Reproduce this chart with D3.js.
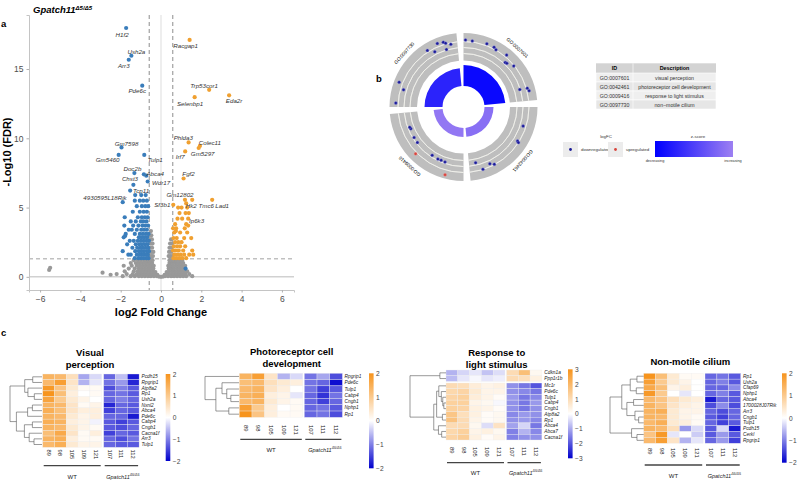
<!DOCTYPE html>
<html>
<head>
<meta charset="utf-8">
<script src="https://cdn.jsdelivr.net/npm/d3@7"></script>
<style>
  body { margin: 0; background: #fff; }
  svg text { font-family: "Liberation Sans", Arial, sans-serif; }
</style>
</head>
<body>
<svg id="fig" width="797" height="480"></svg>
<script>
// ---------- panel a : volcano ----------
var hitGenes = ["H1f2","Ush2a","Arr3","Pde6c","Racgap1","Trp53cor1","Eda2r","Selenbp1","Phlda3","Colec11",
  "Gm5297","Irf7","Fgf2","Gm7598","Gm5460","Tulp1","Doc2b","Abca4","Chst3","Wdr17","Tcp11",
  "4930595L18Rik","Gm12802","Sf3b1","Hk2","Tmc6","Lad1","Ip6k3"];
var hitLfc = [-1.73,-1.47,-1.60,-0.93,1.42,2.39,3.38,1.67,1.37,1.93,1.87,1.20,1.12,-1.96,-2.10,-0.83,
  -1.32,-0.85,-1.37,-0.66,-1.53,-1.90,1.19,0.61,1.25,1.55,2.54,1.22];
var hitFdr = [17.96,15.96,15.67,13.80,17.10,13.50,13.10,12.97,9.70,9.45,9.30,9.05,7.10,9.34,8.80,8.80,
  7.49,7.40,6.64,6.88,6.23,5.39,5.56,5.20,5.30,5.56,5.56,4.60];

// other significant / non-significant genes [log2FC, -log10 FDR]
var downPts = [[-0.62,1.35],[-0.72,1.35],[-0.85,1.35],[-0.98,1.35],[-1.12,1.35],[-1.3,1.35],
  [-0.65,1.6],[-0.78,1.6],[-0.92,1.6],[-1.05,1.6],[-1.2,1.6],[-1.5,1.6],[-1.62,1.6],
  [-0.6,1.85],[-0.7,1.85],[-0.84,1.85],[-0.97,1.85],[-1.1,1.85],[-1.28,1.85],[-1.9,1.85],
  [-0.63,2.1],[-0.76,2.1],[-0.9,2.1],[-1.02,2.1],[-1.18,2.1],[-1.42,2.1],
  [-0.66,2.35],[-0.8,2.35],[-0.94,2.35],[-1.08,2.35],[-1.25,2.35],[-1.68,2.35],
  [-0.6,2.6],[-0.72,2.6],[-0.86,2.6],[-1.0,2.6],[-1.15,2.6],[-1.35,2.6],[-1.55,2.6],
  [-0.68,2.85],[-0.82,2.85],[-0.96,2.85],[-1.1,2.85],[-1.85,2.85],[-1.78,2.95],
  [-0.62,3.1],[-0.75,3.1],[-0.9,3.1],[-1.05,3.1],[-1.3,3.1],[-1.75,3.1],
  [-0.7,3.4],[-0.84,3.4],[-0.98,3.4],[-1.2,3.4],[-1.45,3.4],[-1.6,3.4],
  [-0.64,3.7],[-0.78,3.7],[-0.92,3.7],[-1.12,3.7],[-1.38,3.7],[-1.82,3.7],
  [-0.72,4.0],[-0.88,4.0],[-1.0,4.0],[-1.25,4.0],[-1.5,4.0],
  [-0.66,4.3],[-0.8,4.3],[-0.95,4.3],[-1.15,4.3],[-1.8,4.3],
  [-0.7,4.7],[-0.86,4.7],[-1.05,4.7],[-1.4,4.7],
  [-0.64,5.1],[-0.78,5.1],[-0.95,5.1],[-1.2,5.1],
  [-0.7,5.5],[-0.88,5.5],[-1.05,5.5],[-1.3,5.5],
  [-0.76,5.9],[-0.98,5.9],[-1.28,5.9],[-0.73,7.3],[1.22,0.6]];
var upPts = [[0.62,1.35],[0.75,1.35],[0.9,1.35],[1.05,1.35],[1.25,1.35],
  [0.66,1.6],[0.82,1.6],[0.98,1.6],[1.15,1.6],[1.4,1.6],[1.6,1.6],
  [0.6,1.9],[0.72,1.9],[0.88,1.9],[1.1,1.9],[1.55,1.9],
  [0.64,2.2],[0.8,2.2],[0.95,2.2],[1.2,2.2],
  [0.7,2.5],[0.86,2.5],[1.02,2.5],
  [0.62,2.8],[0.78,2.8],[1.15,2.8],[1.5,2.8],
  [0.66,3.2],[0.74,3.3],[0.95,3.2],[1.3,3.2],
  [0.6,3.5],[0.75,3.5],[1.18,3.5],
  [0.7,3.8],[1.25,3.8],[1.35,3.7],
  [0.82,4.2],[1.05,4.2],[1.35,4.2],
  [0.92,4.6],[1.38,4.6],[0.85,5.0],[1.02,5.0],[1.3,5.0]];
var nsPts = [[-5.55,0.5],[-5.5,0.65],[-2.9,0.3],[-2.5,0.15],[-2.2,0.2],[-1.9,0.05],[-1.5,0.05],
  [-1.3,0.05],[-1.1,0.05],[-0.95,0.05],[-0.8,0.05],[-0.65,0.05],[-0.5,0.05],[-0.35,0.05],[-0.2,0.05],
  [-0.1,0.02],[0,0],[0.1,0.02],[0.2,0.05],[0.35,0.05],[0.5,0.05],[0.65,0.05],[0.8,0.05],[0.95,0.05],
  [1.1,0.05],[1.25,0.05],[1.55,0.05],
  [-1.7,0.2],[-1.4,0.2],[-1.2,0.2],[-1.05,0.2],[-0.9,0.2],[-0.75,0.2],[-0.6,0.2],[-0.45,0.2],[-0.3,0.2],
  [-0.18,0.15],[0.18,0.15],[0.3,0.2],[0.45,0.2],[0.6,0.2],[0.75,0.2],[0.9,0.2],[1.05,0.2],[1.2,0.2],[1.4,0.2],
  [-1.8,0.4],[-1.35,0.4],[-1.15,0.4],[-1.0,0.4],[-0.85,0.4],[-0.7,0.4],[-0.55,0.4],[-0.4,0.4],[-0.28,0.35],
  [0.28,0.35],[0.4,0.4],[0.55,0.4],[0.7,0.4],[0.85,0.4],[1.0,0.4],[1.15,0.4],[1.3,0.4],
  [-1.6,0.6],[-1.3,0.6],[-1.1,0.6],[-0.95,0.6],[-0.8,0.6],[-0.65,0.6],[-0.5,0.6],[-0.38,0.6],
  [0.38,0.6],[0.5,0.6],[0.65,0.6],[0.8,0.6],[0.95,0.6],[1.1,0.6],
  [-1.85,0.8],[-1.45,0.8],[-1.2,0.8],[-1.05,0.8],[-0.9,0.8],[-0.75,0.8],[-0.6,0.8],[-0.47,0.8],[-0.36,0.8],
  [0.36,0.8],[0.47,0.8],[0.6,0.8],[0.75,0.8],[0.9,0.8],[1.05,0.8],[1.2,0.8],
  [-1.5,1.0],[-1.25,1.0],[-1.1,1.0],[-0.95,1.0],[-0.8,1.0],[-0.68,1.0],[-0.55,1.0],[-0.44,1.0],
  [0.42,1.0],[0.55,1.0],[0.68,1.0],[0.8,1.0],[0.95,1.0],[1.1,1.0],
  [-1.35,1.2],[-1.15,1.2],[-1.0,1.2],[-0.85,1.2],[-0.72,1.2],[-0.6,1.2],[-0.5,1.2],[-0.42,1.2],
  [0.42,1.2],[0.52,1.2],[0.62,1.2],[0.75,1.2],[0.9,1.2],[1.05,1.2],
  [-0.56,1.5],[-0.48,1.5],[-0.4,1.5],[0.38,1.5],[0.46,1.5],[0.55,1.5],
  [-0.55,1.8],[-0.46,1.8],[-0.38,1.8],[0.4,1.8],[0.5,1.8],
  [-0.54,2.1],[-0.44,2.1],[0.42,2.1],[0.52,2.1],
  [-0.5,2.4],[-0.42,2.4],[0.45,2.4],[0.55,2.4],
  [-0.52,2.7],[-0.45,2.7],[0.5,2.7],[-0.48,3.0],[-0.55,3.0],[-0.5,3.3]];

// ---------- panel b : GO circle ----------
var goIds = ["GO:0007601","GO:0042461","GO:0009416","GO:0097730"];
var goDesc = ["visual perception","photoreceptor cell development","response to light stimulus","non\u2212motile cilium"];
var goSignif = [7.0, 3.0, 3.0, 6.0];      // bar height (-log10 adj p)
var goZscore = [-3.46, -1.7, -1.55, -3.0];
var goGenePos = [
  [0.02,0.09,0.24,0.32,0.35,0.47,0.51,0.53,0.60,0.86,0.87,0.90],
  [0.21,0.38,0.39,0.73,0.77,0.86,0.92],
  [0.18,0.22,0.27,0.31,0.39,0.54,0.62,0.69,0.80,0.82],
  [0.04,0.19,0.25,0.68,0.74,0.80,0.86,0.87,0.88,0.93]];
var goGeneLfc = [
  [-0.26,-0.34,-0.19,-0.22,-0.49,-0.17,-1.40,-1.31,-0.66,-1.79,-0.36,-0.15],
  [-1.10,-0.87,-0.55,-0.64,-1.12,-0.59,-2.17],
  [0.37,-1.96,-2.03,-1.96,-2.05,-0.26,-1.94,-1.96,-2.17,-2.07],
  [-0.11,-1.14,0.12,-0.24,-1.16,0.08,-0.11,-1.60,-0.41,-0.83]];
var goGeneUp = [[],[],[0,5],[]];

// ---------- panel c : heatmaps ----------
var wtSamples = ["89","98","105","109","121"];
var mutSamples = ["107","111","112"];
var hmTitles = [["Visual","perception"],["Photoreceptor cell","development"],["Response to","light stimulus"],["Non-motile cilium"]];
var hmGenes = [
  ["Pcdh15","Rpgrip1","Atp8a2","Rp1","Ush2a","Nxnl2","Abca4","Pde6c","Cabp4","Cngb1","Cacna1f","Arr3","Tulp1"],
  ["Rpgrip1","Pde6c","Tulp1","Cabp4","Cngb1","Nphp1","Rp1"],
  ["Cdkn1a","Ppp1r1b","Mc1r","Pde6c","Tulp1","Cabp4","Cngb1","Atp8a2","Rp1","Abca4","Abca7","Cacna1f"],
  ["Rp1","Ush2a","Cfap69","Nphp1","Abca4","1700028J07Rik","Arr3","Cngb1","Tulp1","Pcdh15","Cerkl","Rpgrip1"]];
var hmValues = [
  [[1.4,1.3,0.6,-0.7,-0.3,-1.2,-0.5,-1.8],[1.3,1.8,0.5,-0.6,-0.2,-1.1,-0.8,-1.7],[1.9,1.1,0.4,0.1,0.1,-1.4,-1.0,-1.3],
   [2.0,1.2,0.3,0.0,0.1,-1.2,-1.1,-1.3],[1.7,1.0,0.4,0.2,0.0,-1.2,-1.0,-1.2],[1.4,1.3,0.5,0.1,0.2,-1.7,-1.2,-1.3],
   [1.5,1.2,0.5,0.3,0.3,-1.5,-1.2,-1.3],[1.4,1.3,0.4,0.2,0.3,-1.2,-1.2,-1.8],[1.5,1.4,0.3,0.2,-0.1,-1.3,-1.5,-1.3],
   [1.4,1.3,0.4,0.2,0.1,-1.3,-1.4,-1.2],[1.2,1.6,0.5,0.1,0.3,-1.5,-1.2,-1.3],[1.4,1.5,0.3,0.1,0.1,-1.2,-1.4,-1.1],
   [1.3,1.5,0.4,0.2,0.2,-1.2,-1.3,-1.3]],
  [[1.4,1.8,0.5,-0.6,-0.3,-1.1,-0.7,-1.4],[1.2,1.3,0.6,0.4,0.3,-1.1,-1.2,-1.9],[1.3,1.4,0.5,0.3,0.0,-1.1,-1.5,-1.3],
   [1.4,1.5,0.3,0.2,-0.2,-1.2,-1.6,-1.1],[1.3,1.4,0.4,0.2,0.1,-1.2,-1.5,-1.2],[1.8,1.0,0.3,0.0,0.1,-1.2,-1.1,-1.3],
   [2.0,1.1,0.3,0.1,0.1,-1.2,-1.1,-1.4]],
  [[-0.9,-0.5,-0.3,-0.7,-0.4,1.0,1.8,0.2],[-0.8,-0.3,-0.1,-0.3,-0.2,1.0,0.9,0.4],[1.0,0.9,0.5,0.3,0.4,-1.3,-1.6,-2.0],
   [1.1,1.2,0.6,0.3,0.3,-1.3,-1.4,-1.6],[1.2,1.3,0.5,0.3,0.1,-1.2,-1.6,-1.4],[1.3,1.3,0.3,0.2,-0.1,-1.3,-1.6,-1.2],
   [1.3,1.2,0.4,0.3,0.1,-1.3,-1.6,-1.3],[1.6,0.9,0.4,0.1,0.2,-1.4,-1.2,-1.3],[1.7,1.0,0.3,0.1,0.2,-1.3,-1.2,-1.4],
   [1.0,1.0,0.2,-0.4,0.8,-1.1,-0.5,-1.6],[1.1,1.3,0.3,0.4,0.2,-1.5,-0.9,-1.4],[1.2,1.4,0.4,0.1,0.3,-1.5,-1.3,-1.3]],
  [[2.0,1.2,0.4,0.1,0.1,-1.2,-1.1,-1.3],[1.8,1.0,0.4,0.2,0.0,-1.2,-1.0,-1.3],[1.6,1.2,0.2,0.3,0.0,-1.2,-1.2,-0.9],
   [1.9,1.0,0.0,-0.2,0.0,-1.2,-1.0,-1.3],[1.3,1.1,0.6,0.4,0.3,-1.8,-1.2,-1.3],[1.4,1.1,0.5,0.3,0.2,-1.4,-0.9,-1.4],
   [1.4,1.5,0.4,0.2,0.2,-1.2,-1.4,-1.2],[1.4,1.3,0.4,0.2,0.1,-1.3,-1.5,-1.2],[1.3,1.5,0.4,0.3,0.1,-1.2,-1.5,-1.3],
   [1.4,1.3,0.6,-0.8,-0.3,-1.3,-0.3,-1.8],[1.1,1.9,-0.2,0.0,-0.4,-1.3,-0.8,-1.3],[1.3,1.8,0.5,-0.6,-0.2,-1.2,-0.8,-1.5]]];
var hmLegendMax = [2, 2, 3, 2];
// row dendrograms: [height, left, right], leaves = row index
var hmTrees = [
  [1, [0.54, [0.29, 0, 1], [0.44, 2, [0.24, 3, 4]]], [0.8, [0.45, [0.3, 5, 6], 7], [0.55, [0.3, 8, 9], [0.4, 10, [0.25, 11, 12]]]]],
  [1, 0, [0.68, [0.5, 1, [0.36, 2, [0.24, 3, 4]]], [0.3, 5, 6]]],
  [1, [0.17, 0, 1], [0.34, [0.26, [0.2, 2, [0.13, 3, [0.09, 4, [0.06, 5, 6]]]], [0.1, 7, 8]], [0.21, 9, [0.12, 10, 11]]]],
  [1, [0.65, [0.4, [0.2, 0, 1], [0.22, 2, 3]], [0.5, [0.3, 4, 5], [0.26, 6, [0.15, 7, 8]]]], [0.36, 9, [0.2, 10, 11]]]];

// ================= drawing =================
var svg = d3.select("#fig");

function panelLetter(t, x, y) {
  svg.append("text").attr("x", x).attr("y", y).attr("font-size", 9.5).attr("font-weight", "bold").text(t);
}

// ---- a ----
var xV = d3.scaleLinear().domain([-6.55, 6.6]).range([29, 294]);
var yV = d3.scaleLinear().domain([-0.95, 18.9]).range([290, 15]);
var pa = svg.append("g");

pa.append("line").attr("x1", xV(0)).attr("x2", xV(0)).attr("y1", 15).attr("y2", 290).attr("stroke", "#d4d4d4").attr("stroke-width", 0.8);
pa.append("line").attr("x1", 29).attr("x2", 294).attr("y1", yV(0)).attr("y2", yV(0)).attr("stroke", "#a8a8a8").attr("stroke-width", 0.8);
[-0.585, 0.585].forEach(function (v) {
  pa.append("line").attr("x1", xV(v)).attr("x2", xV(v)).attr("y1", 15).attr("y2", 290)
    .attr("stroke", "#707070").attr("stroke-width", 0.8).attr("stroke-dasharray", "4,3");
});
pa.append("line").attr("x1", 29).attr("x2", 294).attr("y1", yV(1.3)).attr("y2", yV(1.3))
  .attr("stroke", "#8a8a8a").attr("stroke-width", 0.8).attr("stroke-dasharray", "4,3");

var xAxisA = pa.append("g").attr("transform", "translate(0,290)")
  .call(d3.axisBottom(xV).tickValues([-6, -4, -2, 0, 2, 4, 6]).tickSize(2.5).tickFormat(d3.format("d")));
var yAxisA = pa.append("g").attr("transform", "translate(29,0)")
  .call(d3.axisLeft(yV).tickValues([0, 5, 10, 15]).tickSize(2.5));
[xAxisA, yAxisA].forEach(function (ax) {
  ax.select(".domain").attr("stroke", "#c4c4c4");
  ax.selectAll(".tick line").attr("stroke", "#b0b0b0");
  ax.selectAll(".tick text").attr("fill", "#4d4d4d").attr("font-size", 8.5).attr("font-family", null);
});

function dots(data, fill) {
  pa.append("g").selectAll("circle").data(data).enter().append("circle")
    .attr("cx", function (d) { return xV(d[0]); })
    .attr("cy", function (d) { return yV(d[1]); })
    .attr("r", 2.1).attr("fill", fill);
}
dots(nsPts, "#999999");
dots(downPts, "#3a7dbb");
dots(upPts, "#f0a030");
var hits = hitGenes.map(function (g, i) { return [hitLfc[i], hitFdr[i], g]; });
dots(hits.filter(function (d) { return d[0] < 0; }), "#3a7dbb");
dots(hits.filter(function (d) { return d[0] > 0; }), "#f0a030");

// label nudges (px) from the point
var labelNudge = {
  H1f2: [-4, 6], Ush2a: [5, -4], Arr3: [-5, 6], Pde6c: [-5, 5], Racgap1: [-4, 6], Trp53cor1: [-5, -4.5],
  Eda2r: [5, 5.6], Selenbp1: [-4.6, 6], Phlda3: [-5.3, -4.8], Colec11: [10, -3.4], Gm5297: [4, 6],
  Irf7: [-5, 5.2], Fgf2: [5, -5], Gm7598: [5, -4], Gm5460: [-11, 5], Tulp1: [11, 4.4], Doc2b: [-2, -4.8],
  Abca4: [11.4, -1.3], Chst3: [-3.4, -6], Wdr17: [13.3, 0.5], Tcp11: [11, 0.2], "4930595L18Rik": [-17.7, -4.4],
  Gm12802: [-5, -5.5], Sf3b1: [-11, -0.5], Hk2: [5, 1.9], Tmc6: [14, 5.5], Lad1: [10, 5.5], Ip6k3: [11, 7.4]
};
pa.append("g").selectAll("text").data(hits).enter().append("text")
  .attr("x", function (d) { return xV(d[0]) + labelNudge[d[2]][0]; })
  .attr("y", function (d) { return yV(d[1]) + labelNudge[d[2]][1]; })
  .attr("text-anchor", "middle").attr("dominant-baseline", "central")
  .attr("font-size", 6.2).attr("font-style", "italic").attr("fill", "#333")
  .text(function (d) { return d[2]; });

pa.append("text").attr("transform", "translate(11,152) rotate(-90)").attr("text-anchor", "middle")
  .attr("font-size", 11).attr("font-weight", "bold").text("-Log10 (FDR)");
pa.append("text").attr("x", 161).attr("y", 316).attr("text-anchor", "middle")
  .attr("font-size", 11).attr("font-weight", "bold").text("log2 Fold Change");
var ttl = pa.append("text").attr("x", 33).attr("y", 13).attr("font-size", 9.5)
  .attr("font-weight", "bold").attr("font-style", "italic");
ttl.append("tspan").text("Gpatch11");
ttl.append("tspan").attr("font-size", 6).attr("dy", -3.5).text("\u03945/\u03945");
panelLetter("a", 1, 27);

// ---- b ----
var cx = 463.5, cy = 107;
var pb = svg.append("g").attr("transform", "translate(" + cx + "," + cy + ")");
var span = 84.5, ringIn = 46.5, ringOut = 74, rad = Math.PI / 180;
var barR = d3.scaleLinear().domain([0, 7]).range([21, 42]);
var zCol = d3.scaleLinear().domain([-3.6, -1.4]).range(["#0000ff", "#9d80f2"]);
var lfcR = d3.scaleLinear().domain([-3.5, 0.5]).range([50, 71]);
var arc = d3.arc();

goIds.forEach(function (id, k) {
  var a0 = k * 90, a1 = k * 90 + span;
  pb.append("path").attr("d", arc({innerRadius: ringIn, outerRadius: ringOut, startAngle: a0 * rad, endAngle: a1 * rad}))
    .attr("fill", "#bebebe");
  [53.5, 59.5, 65.5].forEach(function (r) {
    pb.append("path").attr("d", arc({innerRadius: r, outerRadius: r, startAngle: a0 * rad, endAngle: a1 * rad}))
      .attr("fill", "none").attr("stroke", "#f4f4ee").attr("stroke-width", 0.7);
  });
  pb.append("path").attr("d", arc({innerRadius: 21, outerRadius: barR(goSignif[k]), startAngle: a0 * rad, endAngle: a1 * rad}))
    .attr("fill", zCol(goZscore[k]));
  goGenePos[k].forEach(function (p, j) {
    var th = (a0 + p * span) * rad, r = lfcR(goGeneLfc[k][j]);
    var up = goGeneUp[k].indexOf(j) >= 0;
    pb.append("circle").attr("cx", r * Math.sin(th)).attr("cy", -r * Math.cos(th)).attr("r", 1.5)
      .attr("fill", up ? "#d8443c" : "#1a1a96").attr("stroke", up ? "#f09090" : "#8080e0").attr("stroke-width", 0.4);
  });
  var am = a0 + span / 2;
  pb.append("text")
    .attr("transform", "translate(" + (80 * Math.sin(am * rad)) + "," + (-80 * Math.cos(am * rad)) + ") rotate(" + am + ")")
    .attr("text-anchor", "middle").attr("dominant-baseline", "central").attr("font-size", 4.8).text(id);
});

// table
var tb = svg.append("g");
var colEdges = [596, 633, 716], rowTop = 63.3, headH = 9.7, rowH = 9;
tb.append("rect").attr("x", colEdges[0]).attr("y", rowTop).attr("width", colEdges[2] - colEdges[0]).attr("height", headH).attr("fill", "#d3d3d3");
["ID", "Description"].forEach(function (h, i) {
  tb.append("text").attr("x", (colEdges[i] + colEdges[i + 1]) / 2).attr("y", rowTop + headH / 2)
    .attr("text-anchor", "middle").attr("dominant-baseline", "central").attr("font-size", 5.4).attr("font-weight", "bold").text(h);
});
goIds.forEach(function (id, i) {
  var y = rowTop + headH + i * rowH;
  tb.append("rect").attr("x", colEdges[0]).attr("y", y).attr("width", colEdges[2] - colEdges[0]).attr("height", rowH)
    .attr("fill", i % 2 ? "#e6e6e6" : "#efefef").attr("stroke", "#fff").attr("stroke-width", 0.6);
  [id, goDesc[i]].forEach(function (t, c) {
    tb.append("text").attr("x", (colEdges[c] + colEdges[c + 1]) / 2).attr("y", y + rowH / 2)
      .attr("text-anchor", "middle").attr("dominant-baseline", "central").attr("font-size", 5.2).attr("fill", "#333").text(t);
  });
});
tb.append("line").attr("x1", colEdges[1]).attr("x2", colEdges[1]).attr("y1", rowTop).attr("y2", rowTop + headH + 4 * rowH)
  .attr("stroke", "#fff").attr("stroke-width", 0.6);

// legends
var lg = svg.append("g").attr("font-size", 4.4).attr("fill", "#333");
lg.append("text").attr("x", 606).attr("y", 138).attr("text-anchor", "middle").text("logFC");
[["downregulated", "#1a1a96", 563], ["upregulated", "#d8443c", 608]].forEach(function (d) {
  lg.append("rect").attr("x", d[2]).attr("y", 142).attr("width", 15).attr("height", 15).attr("fill", "#ececec");
  lg.append("circle").attr("cx", d[2] + 7.5).attr("cy", 149.5).attr("r", 1.4).attr("fill", d[1]);
  lg.append("text").attr("x", d[2] + 18).attr("y", 149.5).attr("dominant-baseline", "central").text(d[0]);
});
var grad = svg.append("defs").append("linearGradient").attr("id", "zgrad");
grad.append("stop").attr("offset", "0%").attr("stop-color", zCol(-3.6));
grad.append("stop").attr("offset", "100%").attr("stop-color", zCol(-1.4));
lg.append("text").attr("x", 698).attr("y", 138).attr("text-anchor", "middle").text("z-score");
lg.append("rect").attr("x", 655).attr("y", 141).attr("width", 78).attr("height", 16).attr("fill", "url(#zgrad)");
lg.append("text").attr("x", 655).attr("y", 162).attr("text-anchor", "middle").attr("font-size", 3.8).text("decreasing");
lg.append("text").attr("x", 733).attr("y", 162).attr("text-anchor", "middle").attr("font-size", 3.8).text("increasing");
panelLetter("b", 376, 82);

// ---- c ----
var hmLayout = [
  {x0: 42.7, cw: 11.8, gap: 2, y0: 374, rh: 5.64, labX: 141.5, dx0: 10, dx1: 42, cbX: 165.7, cbY0: 374, cbY1: 461, colLabY: 449.5, lineY: 465.7, grpY: 476.5, titleX: 90, titleY: [352, 364]},
  {x0: 239.3, cw: 12.7, gap: 1.5, y0: 373.3, rh: 6.29, labX: 344.5, dx0: 205, dx1: 239, cbX: 369, cbY0: 373.3, cbY1: 468.3, colLabY: 425, lineY: 439.3, grpY: 449.5, titleX: 291.7, titleY: [351, 363]},
  {x0: 446, cw: 11.8, gap: 1.5, y0: 370, rh: 5.7, split: 2, splitGap: 1.6, labX: 544.3, dx0: 410, dx1: 446, cbX: 568, cbY0: 369.3, cbY1: 458.3, colLabY: 447, lineY: 462.7, grpY: 472.5, titleX: 496.7, titleY: [352, 364]},
  {x0: 643.7, cw: 11.9, gap: 1.8, y0: 373.3, rh: 5.83, labX: 743, dx0: 610, dx1: 643.7, cbX: 782, cbY0: 373.3, cbY1: 462.7, colLabY: 448, lineY: 465, grpY: 475.5, titleX: 690.3, titleY: [361]}
];
var defs = svg.select("defs");

function drawHeatmap(k) {
  var L = hmLayout[k], genes = hmGenes[k], vals = hmValues[k], m = hmLegendMax[k];
  var g = svg.append("g");
  var wtX = d3.scaleBand().domain(wtSamples).range([L.x0, L.x0 + 5 * L.cw]);
  var mutX = d3.scaleBand().domain(mutSamples).range([L.x0 + 5 * L.cw + L.gap, L.x0 + 8 * L.cw + L.gap]);
  var samples = wtSamples.concat(mutSamples);
  var colX = function (s) { return wtSamples.indexOf(s) >= 0 ? wtX(s) : mutX(s); };
  var rowY = d3.scaleBand().domain(d3.range(genes.length)).range([L.y0, L.y0 + genes.length * L.rh]);
  var yOf = function (i) { return rowY(i) + (L.split && i >= L.split ? L.splitGap : 0); };
  var col = d3.scaleLinear().domain([-m, 0, m]).range(["#0000cd", "#ffffff", "#f7941d"]);

  vals.forEach(function (row, i) {
    g.selectAll(null).data(row).enter().append("rect")
      .attr("x", function (v, j) { return colX(samples[j]); })
      .attr("y", yOf(i)).attr("width", L.cw).attr("height", L.rh)
      .attr("fill", function (v) { return col(v); })
      .attr("stroke", "#eeeeee").attr("stroke-width", 0.35);
  });
  // gene names
  g.selectAll(null).data(genes).enter().append("text")
    .attr("x", L.labX).attr("y", function (d, i) { return yOf(i) + L.rh / 2; })
    .attr("dominant-baseline", "central").attr("font-size", 4.8).attr("font-style", "italic").attr("fill", "#222")
    .text(function (d) { return d; });
  // dendrogram
  var xH = d3.scaleLinear().domain([0, 1]).range([L.dx1, L.dx0]);
  function tree(node) {
    if (typeof node === "number") return {y: yOf(node) + L.rh / 2, h: 0};
    var a = tree(node[1]), b = tree(node[2]), x = xH(node[0]);
    g.append("path").attr("d", "M" + xH(a.h) + "," + a.y + "H" + x + "V" + b.y + "H" + xH(b.h))
      .attr("fill", "none").attr("stroke", "#555").attr("stroke-width", 0.6);
    return {y: (a.y + b.y) / 2, h: node[0]};
  }
  tree(hmTrees[k]);
  // sample labels
  g.selectAll(null).data(samples).enter().append("text")
    .attr("transform", function (s) { return "translate(" + (colX(s) + L.cw / 2) + "," + L.colLabY + ") rotate(90)"; })
    .attr("dy", "0.35em").attr("font-size", 5.8).attr("fill", "#222").text(function (s) { return s; });
  // group bars
  [[wtX, "WT"], [mutX, "Gpatch11"]].forEach(function (gr, gi) {
    var r = gr[0].range();
    g.append("line").attr("x1", r[0] + 1).attr("x2", r[1] - 1).attr("y1", L.lineY).attr("y2", L.lineY)
      .attr("stroke", "#444").attr("stroke-width", 1.3);
    var t = g.append("text").attr("x", (r[0] + r[1]) / 2 + (gi ? 1.5 : 0)).attr("y", L.grpY)
      .attr("text-anchor", "middle").attr("dominant-baseline", "central").attr("font-size", gi ? 5.5 : 6).attr("fill", "#222");
    t.append("tspan").attr("font-style", gi ? "italic" : null).text(gr[1]);
    if (gi) t.append("tspan").attr("font-size", 3.6).attr("font-style", "italic").attr("dy", -2).text("\u03945/\u03945");
  });
  // title
  hmTitles[k].forEach(function (line, i) {
    g.append("text").attr("x", L.titleX).attr("y", L.titleY[i]).attr("text-anchor", "middle")
      .attr("dominant-baseline", "central").attr("font-size", 9.5).attr("font-weight", "bold").text(line);
  });
  // colour bar
  var gid = "cb" + k;
  var lgr = defs.append("linearGradient").attr("id", gid).attr("x1", 0).attr("x2", 0).attr("y1", 0).attr("y2", 1);
  [[0, m], [0.5, 0], [1, -m]].forEach(function (s) {
    lgr.append("stop").attr("offset", s[0]).attr("stop-color", col(s[1]));
  });
  g.append("rect").attr("x", L.cbX).attr("y", L.cbY0).attr("width", 4.6).attr("height", L.cbY1 - L.cbY0).attr("fill", "url(#" + gid + ")");
  var cbScale = d3.scaleLinear().domain([-m, m]).range([L.cbY1, L.cbY0]);
  var ax = g.append("g").attr("transform", "translate(" + (L.cbX + 4.6) + ",0)")
    .call(d3.axisRight(cbScale).tickValues(d3.range(-m, m + 1)).tickSize(0).tickPadding(2.5).tickFormat(d3.format("d")));
  ax.select(".domain").remove();
  ax.selectAll("text").attr("font-size", 6.6).attr("fill", "#444").attr("font-family", null);
}
[0, 1, 2, 3].forEach(drawHeatmap);
panelLetter("c", 1, 336);
</script>
</body>
</html>
